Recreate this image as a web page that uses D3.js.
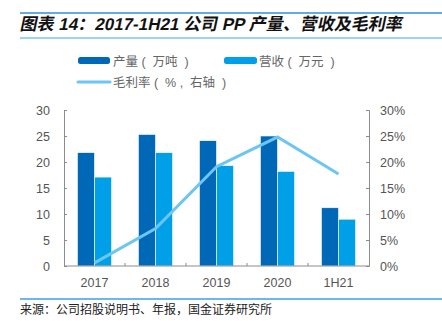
<!DOCTYPE html>
<html><head><meta charset="utf-8">
<script src="https://cdn.jsdelivr.net/npm/d3@7"></script>
<style>body{margin:0;background:#fff}svg{display:block}text{white-space:pre}</style>
</head><body>
<svg id="c" width="442" height="321"></svg>
<script>
const categories = ["2017","2018","2019","2020","1H21"];
const output = [21.8, 25.3, 24.1, 25.0, 11.2];     // 产量（万吨）
const revenue = [17.1, 21.8, 19.3, 18.2, 9.0];     // 营收（万元）
const margin = [0.6, 7.2, 19.1, 24.8, 17.7];       // 毛利率 %
const leftTicks = [0,5,10,15,20,25,30];
const rightTicks = [0,5,10,15,20,25,30];

const svg = d3.select("#c");
const C_DARK = "#0068b7", C_LIGHT = "#00a0e9", C_LINE = "#6cc5f2", C_AX = "#8c8c8c";
const font = "'Liberation Sans', Arial, sans-serif";
const cjk = "'Liberation Sans','Noto Sans CJK SC', sans-serif";

// header lines
svg.append("line").attr("x1",20).attr("x2",442).attr("y1",13).attr("y2",13).attr("stroke","#2f8fde").attr("stroke-width",1.5);
svg.append("line").attr("x1",20).attr("x2",442).attr("y1",38).attr("y2",38).attr("stroke","#7cc4f2").attr("stroke-width",1.5);
svg.append("line").attr("x1",20).attr("x2",442).attr("y1",299).attr("y2",299).attr("stroke","#3aa0e6").attr("stroke-width",1.5);

svg.append("text").attr("x",20).attr("y",30).attr("font-family","'Liberation Sans','Noto Sans CJK SC', sans-serif")
  .attr("font-weight","bold").attr("font-size",17).attr("fill","#111")
  .text("图表 14：2017-1H21 公司 PP 产量、营收及毛利率")
  .attr("transform", "skewX(-12) translate(6,0)");

svg.append("text").attr("x",20).attr("y",314).attr("font-family","'Noto Sans CJK SC', sans-serif")
  .attr("font-size",12).attr("fill","#222").text("来源：公司招股说明书、年报，国金证券研究所");

const x0 = 64, x1 = 369, yTop = 110, yBot = 266;
const x = d3.scaleBand().domain(categories).range([x0,x1]).paddingInner(0.44).paddingOuter(0.22);
const xg = d3.scaleBand().domain(categories).range([x0,x1]);
const y = d3.scaleLinear().domain([0,30]).range([yBot,yTop]);
const y2 = d3.scaleLinear().domain([0,30]).range([yBot,yTop]);

// axes
const gL = svg.append("g").attr("transform",`translate(${x0},0)`)
  .call(d3.axisRight(y).tickValues(leftTicks).tickSize(3).tickFormat(""));
const gR = svg.append("g").attr("transform",`translate(${x1},0)`)
  .call(d3.axisLeft(y2).tickValues(rightTicks).tickSize(3).tickFormat(""));
[gL,gR].forEach(g=>{g.select(".domain").attr("stroke",C_AX);g.selectAll(".tick line").attr("stroke",C_AX);});
svg.append("g").selectAll("text").data(leftTicks).join("text")
  .attr("x",50).attr("y",d=>y(d)+4.5).attr("text-anchor","end").attr("font-family",font).attr("font-size",12.5).attr("fill","#555").text(d=>d);
svg.append("g").selectAll("text").data(rightTicks).join("text")
  .attr("x",380).attr("y",d=>y2(d)+4.5).attr("font-family",font).attr("font-size",12.5).attr("fill","#555").text(d=>d+"%");

const bw = x.bandwidth()/2;
const bars = svg.append("g");
bars.selectAll(".a").data(categories).join("rect").attr("class","a")
  .attr("x",d=>x(d)).attr("width",bw).attr("y",(d,i)=>y(output[i])).attr("height",(d,i)=>yBot-y(output[i]))
  .attr("fill",C_DARK).attr("stroke","#fff").attr("stroke-width",0.6);
bars.selectAll(".b").data(categories).join("rect").attr("class","b")
  .attr("x",d=>x(d)+bw).attr("width",bw).attr("y",(d,i)=>y(revenue[i])).attr("height",(d,i)=>yBot-y(revenue[i]))
  .attr("fill",C_LIGHT).attr("stroke","#fff").attr("stroke-width",0.6);

// x axis
const xa = svg.append("g").attr("transform",`translate(0,${yBot})`);
xa.append("line").attr("x1",x0).attr("x2",x1).attr("stroke",C_AX);
xa.selectAll(".t").data(categories.slice(1)).join("line").attr("x1",d=>xg(d)).attr("x2",d=>xg(d)).attr("y1",0).attr("y2",-3).attr("stroke",C_AX);
xa.selectAll("text").data(categories).join("text").attr("x",d=>xg(d)+xg.bandwidth()/2).attr("y",21)
  .attr("text-anchor","middle").attr("font-family",font).attr("font-size",12.5).attr("fill","#555").text(d=>d);

// line
const line = d3.line().x((d,i)=>x(categories[i])+bw).y(d=>y2(d));
svg.append("path").datum(margin).attr("d",line).attr("fill","none").attr("stroke",C_LINE).attr("stroke-width",3);

// legend
const lg = svg.append("g");
lg.append("rect").attr("x",78).attr("y",57).attr("width",32).attr("height",7).attr("rx",2.5).attr("fill",C_DARK);
lg.append("text").attr("x",113).attr("y",65.5).attr("font-family",cjk).attr("font-size",12.5).attr("fill","#666").text("产量 (  万吨  )");
lg.append("rect").attr("x",224).attr("y",57).attr("width",33).attr("height",7).attr("rx",2.5).attr("fill",C_LIGHT);
lg.append("text").attr("x",259).attr("y",65.5).attr("font-family",cjk).attr("font-size",12.5).attr("fill","#666").text("营收 (  万元  )");
lg.append("line").attr("x1",78).attr("x2",110).attr("y1",82).attr("y2",82).attr("stroke",C_LINE).attr("stroke-width",3).attr("stroke-linecap","round");
lg.append("text").attr("x",113).attr("y",87).attr("font-family",cjk).attr("font-size",12.5).attr("fill","#666").text("毛利率 (  % ,  右轴  )");
</script>
</body></html>
